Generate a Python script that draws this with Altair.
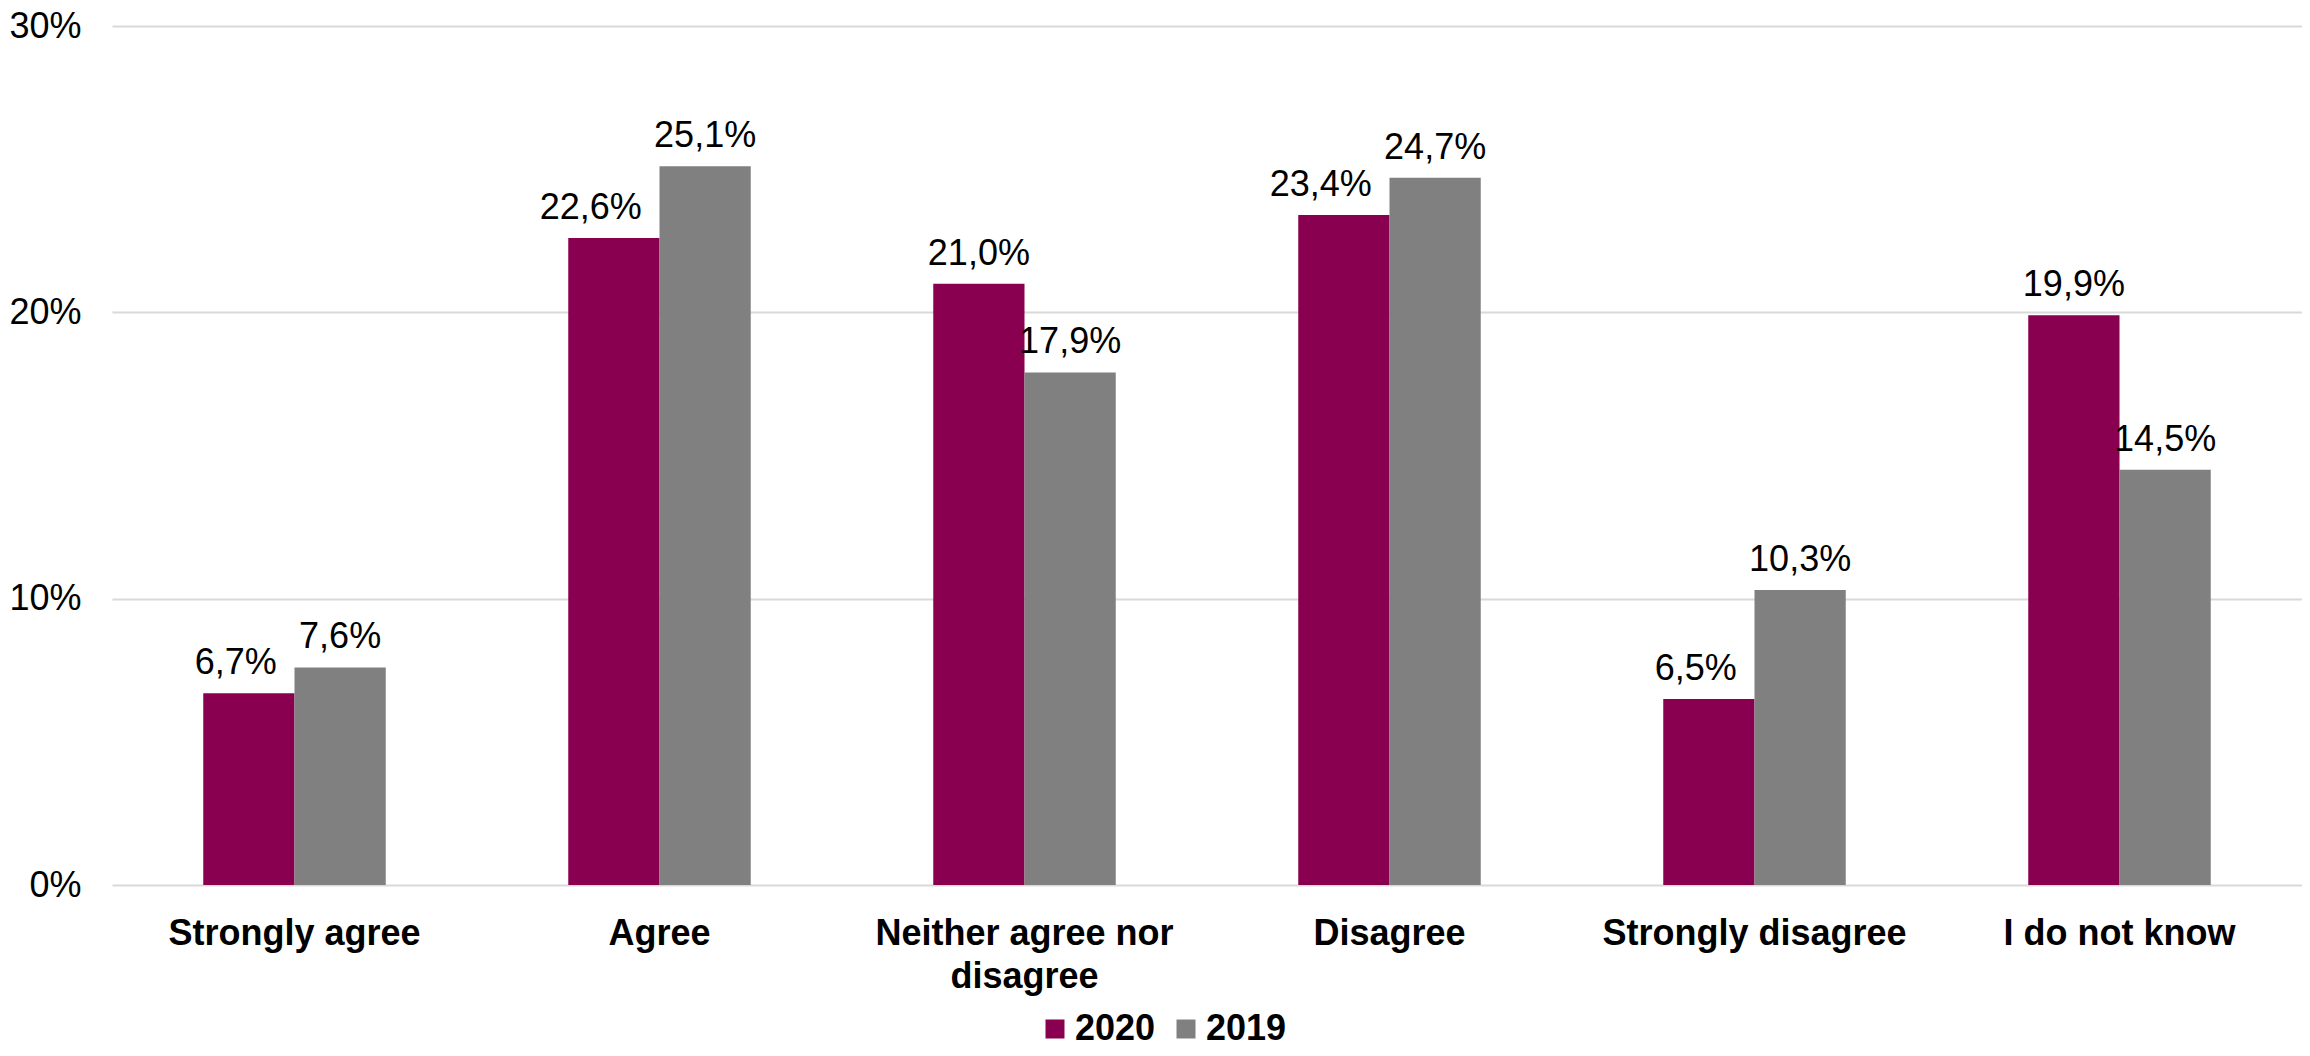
import altair as alt
import pandas as pd

categories = ["Strongly agree", "Agree", "Neither agree nor disagree",
              "Disagree", "Strongly disagree", "I do not know"]
years = ["2020", "2019"]
values_2020 = [6.7, 22.6, 21.0, 23.4, 6.5, 19.9]
values_2019 = [7.6, 25.1, 17.9, 24.7, 10.3, 14.5]
y_ticks = [0, 10, 20, 30]
colors = ["#8A0050", "#808080"]

rows = []
for i, c in enumerate(categories):
    for y, v, other in (("2020", values_2020[i], values_2019[i]),
                        ("2019", values_2019[i], values_2020[i])):
        rows.append({
            "category": c, "year": y, "value": v,
            "label": f"{v:.1f}".replace(".", ",") + "%",
            "shift": (y == "2020" and other > v),
        })
df = pd.DataFrame(rows)

FONT = "Liberation Sans"

x_enc = alt.X("category:N", sort=categories,
              scale=alt.Scale(paddingInner=0.5, paddingOuter=0.25),
              axis=alt.Axis(title=None, labelAngle=0, domain=False, ticks=False,
                            labelPadding=31, labelFontSize=36, labelFontWeight="bold",
                            labelFont=FONT, labelColor="black", labelLimit=1000,
                            labelLineHeight=43,
                            labelExpr="datum.value == 'Neither agree nor disagree' ? ['Neither agree nor', 'disagree'] : datum.value"))
xo_enc = alt.XOffset("year:N", sort=years, scale=alt.Scale(paddingInner=0, paddingOuter=0))
y_enc = alt.Y("value:Q", scale=alt.Scale(domain=[0, 30], nice=False),
              axis=alt.Axis(title=None, values=y_ticks, labelExpr="datum.value + '%'",
                            domain=False, ticks=False, grid=True, gridColor="#d9d9d9",
                            gridWidth=2, labelPadding=31, labelFontSize=36,
                            labelFont=FONT, labelColor="black"))

bars = alt.Chart(df).mark_bar().encode(
    x=x_enc, xOffset=xo_enc, y=y_enc,
    color=alt.Color("year:N", sort=years,
                    scale=alt.Scale(domain=years, range=colors),
                    legend=alt.Legend(title=None, orient="none", legendX=925, legendY=985,
                                      direction="horizontal", symbolType="square",
                                      symbolSize=361, symbolStrokeWidth=0,
                                      labelFontSize=36, labelFontWeight="bold",
                                      labelFont=FONT, labelColor="black",
                                      labelOffset=2, columnPadding=12, padding=0)),
)

text_center = alt.Chart(df).transform_filter("!datum.shift").mark_text(
    align="center", baseline="alphabetic", dy=-19, fontSize=36, font=FONT, color="black"
).encode(x=alt.X("category:N", sort=categories), xOffset=alt.XOffset("year:N", sort=years),
         y="value:Q", text="label:N")

text_shift = alt.Chart(df).transform_filter("datum.shift").mark_text(
    align="right", baseline="alphabetic", dy=-19, dx=28, fontSize=36, font=FONT, color="black"
).encode(x=alt.X("category:N", sort=categories), xOffset=alt.XOffset("year:N", sort=years),
         y="value:Q", text="label:N")

chart = alt.layer(bars, text_center, text_shift).properties(
    width=2190, height=859,
    autosize=alt.AutoSizeParams(type="none"),
    padding={"left": 104, "top": 18, "right": 0, "bottom": 163},
).configure_view(stroke=None)

chart.save("out.html", embed_options={"renderer": "svg", "actions": False})
